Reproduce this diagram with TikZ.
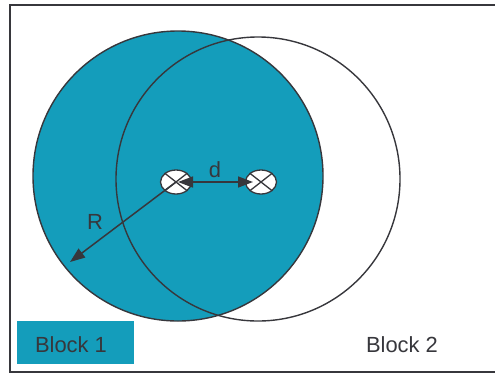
\documentclass[tikz,border=0pt]{standalone}
\usepackage{fontspec}
\setmainfont{Liberation Sans}
\usetikzlibrary{shapes, arrows.meta, positioning, calc}
\definecolor{blockteal}{RGB}{20, 157, 187}
\definecolor{darkline}{RGB}{55, 55, 60}

\begin{document}
\begin{tikzpicture}[x=1bp, y=-1bp,
  >={Triangle[length=15bp, width=11bp]},
  labeltext/.style={font=\fontsize{22}{25}\selectfont, text=darkline, inner sep=0pt},
  outline/.style={circle, draw=darkline, line width=1.4bp, inner sep=0pt},
  sensor/.style={ellipse, draw=darkline, fill=white, minimum width=31bp, minimum height=24bp, inner sep=0pt, line width=1.3bp},
  dimline/.style={draw=darkline, line width=1.5bp}]
  \useasboundingbox (0,0) rectangle (495,374);

  % Frame
  \draw[darkline, line width=2bp] (495,5) -- (10,5) -- (10,372) -- (495,372);

  % Two blocks
  \node[outline, fill=blockteal, minimum size=290bp] (block1) at (178,176) {};
  \node[outline, minimum size=284bp] (block2) at (258,179) {};

  % Centres
  \node[sensor] (s1) at (176,182) {};
  \node[sensor] (s2) at (261,182) {};
  \foreach \s in {s1, s2} {
    \draw[darkline, line width=1.3bp] (\s.north east) -- (\s.south west)
      (\s.north west) -- (\s.south east);
  }

  % Distance and radius
  \draw[dimline, <->] ([xshift=2bp]s1.center) -- ([xshift=-8bp]s2.center);
  \node[labeltext] (dlabel) at (215,170) {d};
  \coordinate (rend) at (70,262);
  \draw[dimline, ->] (s1.center) -- (rend);
  \node[labeltext] (rlabel) at (95,222) {R};

  % Legend
  \node[fill=blockteal, minimum width=117bp, minimum height=43bp, inner sep=0pt] (key1) at (75.5,342.5) {};
  \node[labeltext] (key1text) at (71,345) {Block 1};
  \node[labeltext] (key2text) at (402,345) {Block 2};
\end{tikzpicture}
\end{document}
